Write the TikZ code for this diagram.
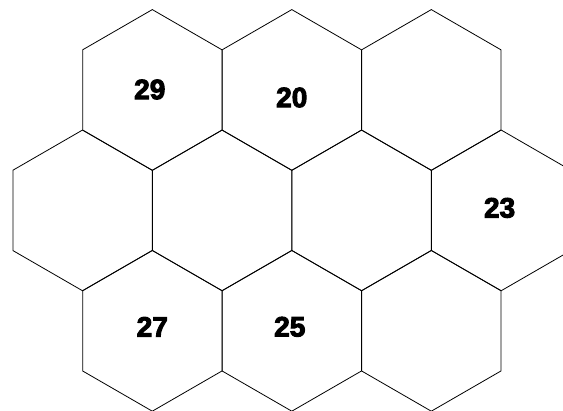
\documentclass[tikz,border=0pt]{standalone}
\usepackage{fontspec}
\setmainfont{Liberation Sans}
\newfontface\numfont{Liberation Sans Bold}[FakeBold=3.5]
\usetikzlibrary{shapes.geometric}

\begin{document}
\begin{tikzpicture}[x=1pt, y=-1pt,
    hexcell/.style={regular polygon, regular polygon sides=6,
      shape border rotate=30, minimum size=160.8pt, inner sep=0pt,
      outer sep=0pt, draw, line width=0.8pt},
    num/.style={font=\numfont\fontsize{28}{28}\selectfont, inner sep=0pt}]

  \useasboundingbox (0,0) rectangle (563,411);
  \clip (0,0) rectangle (563,411);

  % top row
  \node[hexcell] (h11) at (152.3,90) {};
  \node[hexcell] (h12) at (291.8,90) {};
  \node[hexcell] (h13) at (431.3,90) {};

  % middle row
  \node[hexcell] (h21) at (82.6,210.4) {};
  \node[hexcell] (h22) at (222.1,210.4) {};
  \node[hexcell] (h23) at (361.6,210.4) {};
  \node[hexcell] (h24) at (501.1,210.4) {};

  % bottom row
  \node[hexcell] (h31) at (152.3,330.8) {};
  \node[hexcell] (h32) at (291.8,330.8) {};
  \node[hexcell] (h33) at (431.3,330.8) {};

  % numbers
  \node[num] (n29) at ([xshift=-2.5pt, yshift=0.5pt]h11.center) {29};
  \node[num] (n20) at ([yshift=-7.5pt]h12.center) {20};
  \node[num] (n23) at ([xshift=-1.5pt, yshift=2.5pt]h24.center) {23};
  \node[num] (n27) at ([yshift=4pt]h31.center) {27};
  \node[num] (n25) at ([xshift=-2pt, yshift=4pt]h32.center) {25};

\end{tikzpicture}
\end{document}
